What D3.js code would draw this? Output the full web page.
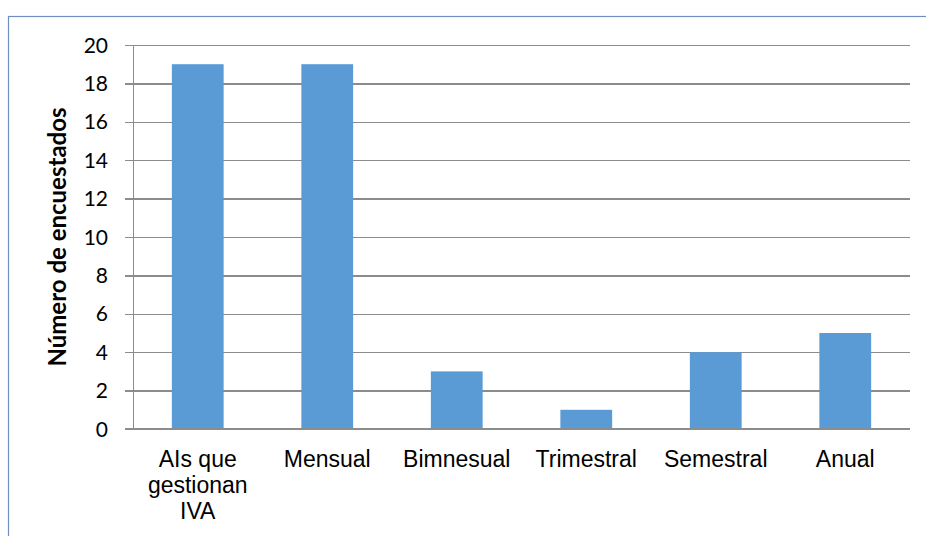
<!DOCTYPE html>
<html>
<head>
<meta charset="utf-8">
<script src="https://cdn.jsdelivr.net/npm/d3@7"></script>
<style>
  html, body { margin: 0; padding: 0; background: #fff; }
  svg { display: block; }
</style>
</head>
<body>
<svg id="chart" width="926" height="536"></svg>
<script>
// Survey counts by VAT filing frequency
const categories = [["AIs que", "gestionan", "IVA"], ["Mensual"], ["Bimnesual"], ["Trimestral"], ["Semestral"], ["Anual"]];
const values = [19, 19, 3, 1, 4, 5];
const yTicks = [0, 2, 4, 6, 8, 10, 12, 14, 16, 18, 20];
const yTitle = "Número de encuestados";

const svg = d3.select("#chart");
const W = 926, H = 536;
const plot = { left: 133, right: 910, top: 45, bottom: 429 };

// Outer chart frame
svg.append("rect")
  .attr("x", 8.5).attr("y", 16.5)
  .attr("width", W).attr("height", H)
  .attr("fill", "#fff")
  .attr("stroke", "#6f8fc0").attr("stroke-width", 1.2);

const keys = categories.map((c, i) => i);
const x = d3.scaleBand().domain(keys).range([plot.left, plot.right]).paddingInner(0.6).paddingOuter(0.3);
const y = d3.scaleLinear().domain([0, 20]).range([plot.bottom, plot.top]);

// Horizontal gridlines with tick stubs
const yAxis = d3.axisLeft(y).tickValues(yTicks).tickSize(-(plot.right - plot.left)).tickPadding(0).tickFormat("");
const gy = svg.append("g").attr("transform", `translate(${plot.left},0)`).call(yAxis);
gy.select(".domain").remove();
gy.selectAll(".tick line")
  .attr("x1", -8)
  .attr("stroke", "#8c8c8c").attr("stroke-width", 1.3)
  .attr("shape-rendering", "crispEdges");

// Vertical axis line
svg.append("line")
  .attr("x1", plot.left + 0.5).attr("x2", plot.left + 0.5)
  .attr("y1", plot.top).attr("y2", plot.bottom)
  .attr("stroke", "#8c8c8c").attr("stroke-width", 1);

// Y tick labels
svg.append("g").selectAll("text").data(yTicks).join("text")
  .attr("x", plot.left - 25)
  .attr("y", d => y(d))
  .attr("dy", "0.36em")
  .attr("text-anchor", "end")
  .attr("font-family", "Lato, 'Open Sans', sans-serif")
  .attr("font-size", 21)
  .attr("fill", "#000")
  .text(d => d);

// Bars
svg.append("g").selectAll("rect").data(values).join("rect")
  .attr("x", (d, i) => x(i))
  .attr("y", d => y(d))
  .attr("width", x.bandwidth())
  .attr("height", d => y(0) - y(d))
  .attr("fill", "#5b9bd5");

// Baseline redrawn on top of bars
svg.append("line")
  .attr("x1", plot.left - 8).attr("x2", plot.right)
  .attr("y1", y(0)).attr("y2", y(0))
  .attr("stroke", "#8c8c8c").attr("stroke-width", 1.3)
  .attr("shape-rendering", "crispEdges");

// Category labels
const xl = svg.append("g").selectAll("text").data(categories).join("text")
  .attr("text-anchor", "middle")
  .attr("font-family", "'Liberation Sans', Arial, sans-serif")
  .attr("font-size", 23)
  .attr("fill", "#000");
xl.each(function(lines, i) {
  const t = d3.select(this);
  lines.forEach((ln, k) => {
    t.append("tspan")
      .attr("x", x(i) + x.bandwidth() / 2)
      .attr("y", 467 + k * 26)
      .text(ln);
  });
});

// Y axis title
svg.append("text")
  .attr("transform", `translate(66,237) rotate(-90)`)
  .attr("text-anchor", "middle")
  .attr("font-family", "Lato, 'Open Sans', sans-serif")
  .attr("font-weight", "bold")
  .attr("font-size", 24)
  .attr("fill", "#000")
  .text(yTitle);
</script>
</body>
</html>
